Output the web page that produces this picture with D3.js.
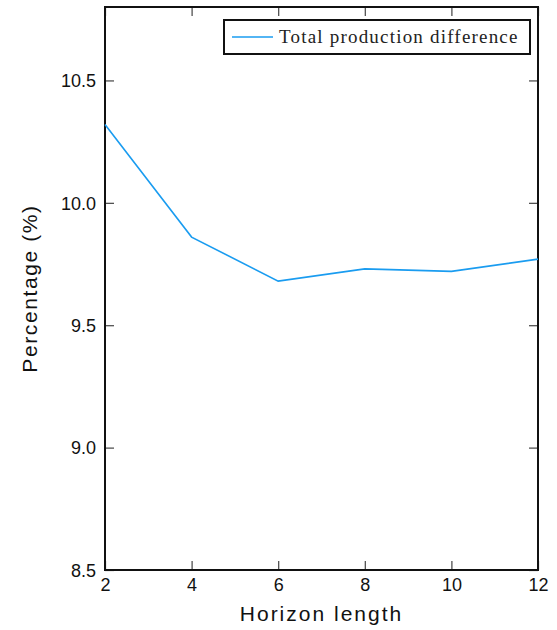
<!DOCTYPE html>
<html>
<head>
<meta charset="utf-8">
<script src="https://cdnjs.cloudflare.com/ajax/libs/d3/7.8.5/d3.min.js"></script>
<style>
  html, body { margin: 0; padding: 0; background: #fff; }
  svg { display: block; }
</style>
</head>
<body>
<div id="root"></div>
<script>
// ——— données
const horizons = [2, 4, 6, 8, 10, 12];
const productionDiff = [10.32, 9.86, 9.68, 9.73, 9.72, 9.77];
const xTicks = [2, 4, 6, 8, 10, 12];
const yTicks = [8.5, 9.0, 9.5, 10.0, 10.5];
const seriesName = "Total production difference";

const width = 557, height = 630;
const margin = { top: 7, right: 19, bottom: 60, left: 105 };
const innerW = width - margin.left - margin.right;
const innerH = height - margin.top - margin.bottom;

const svg = d3.select("#root").append("svg")
  .attr("width", width).attr("height", height);

const g = svg.append("g").attr("transform", `translate(${margin.left},${margin.top})`);

const x = d3.scaleLinear().domain([2, 12]).range([0, innerW]);
const y = d3.scaleLinear().domain([8.5, 10.8]).range([innerH, 0]);

const tickLen = 9;
const tickFont = "'Liberation Sans', Arial, sans-serif";

// axes (ticks vers l'intérieur)
const xAxis = g.append("g").attr("transform", `translate(0,${innerH})`)
  .call(d3.axisBottom(x).tickValues(xTicks).tickSize(-tickLen).tickSizeOuter(0));
const xTop = g.append("g")
  .call(d3.axisTop(x).tickValues(xTicks).tickSize(-tickLen).tickFormat("").tickSizeOuter(0));
const yAxis = g.append("g")
  .call(d3.axisLeft(y).tickValues(yTicks).tickSize(-tickLen).tickFormat(d3.format(".1f")).tickSizeOuter(0));
const yRight = g.append("g").attr("transform", `translate(${innerW},0)`)
  .call(d3.axisRight(y).tickValues(yTicks).tickSize(-tickLen).tickFormat("").tickSizeOuter(0));

[xAxis, xTop, yAxis, yRight].forEach(a => {
  a.select(".domain").remove();
  a.selectAll(".tick line").attr("stroke", "#444").attr("stroke-width", 1.2);
  a.selectAll(".tick text")
    .attr("font-family", tickFont).attr("font-size", 18).attr("fill", "#111");
});
xAxis.selectAll(".tick text").attr("y", 8).attr("dy", "0.71em");
yAxis.selectAll(".tick text").attr("x", -9).attr("dy", "0.35em");

// cadre
g.append("rect")
  .attr("x", 0).attr("y", 0).attr("width", innerW).attr("height", innerH)
  .attr("fill", "none").attr("stroke", "#111").attr("stroke-width", 2);

// courbe
const line = d3.line().x((d, i) => x(horizons[i])).y(d => y(d));
g.append("path")
  .datum(productionDiff)
  .attr("d", line)
  .attr("fill", "none")
  .attr("stroke", "#1a9cf0")
  .attr("stroke-width", 1.6);

// légende
const leg = svg.append("g").attr("transform", "translate(224,20)");
leg.append("rect")
  .attr("width", 306).attr("height", 34)
  .attr("fill", "#fff").attr("stroke", "#111").attr("stroke-width", 2);
leg.append("line")
  .attr("x1", 8).attr("x2", 49).attr("y1", 17).attr("y2", 17)
  .attr("stroke", "#1a9cf0").attr("stroke-width", 1.6);
leg.append("text")
  .attr("x", 55).attr("y", 23)
  .attr("font-family", "'Liberation Serif', 'DejaVu Serif', serif")
  .attr("font-size", 19).attr("letter-spacing", 1.2).attr("fill", "#222")
  .text(seriesName);

// titres des axes
svg.append("text")
  .attr("x", margin.left + innerW / 2).attr("y", 621)
  .attr("text-anchor", "middle")
  .attr("font-family", tickFont).attr("font-size", 21).attr("letter-spacing", 2)
  .attr("fill", "#111")
  .text("Horizon length");

svg.append("text")
  .attr("transform", `translate(37,${margin.top + innerH / 2}) rotate(-90)`)
  .attr("text-anchor", "middle")
  .attr("font-family", tickFont).attr("font-size", 21).attr("letter-spacing", 1.6)
  .attr("fill", "#111")
  .text("Percentage (%)");
</script>
</body>
</html>
